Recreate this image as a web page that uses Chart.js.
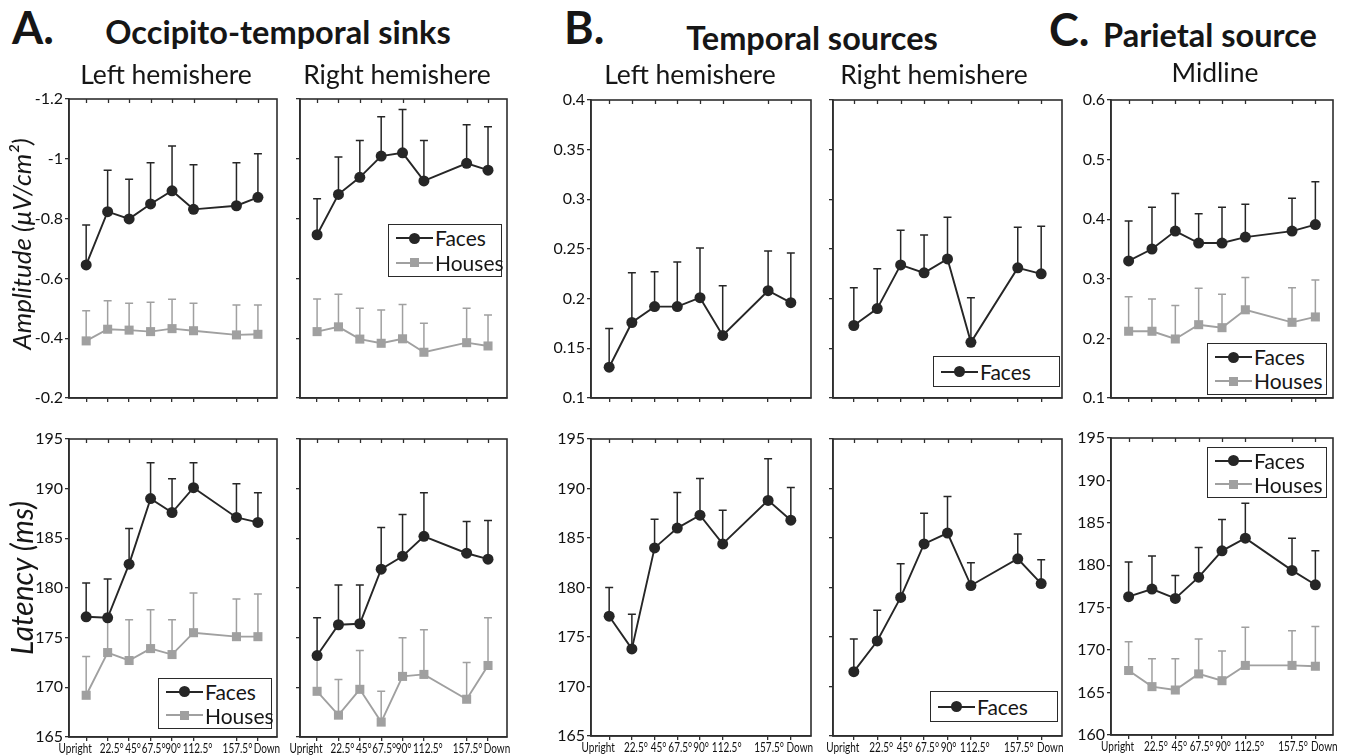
<!DOCTYPE html>
<html>
<head>
<meta charset="utf-8">
<script src="https://cdn.jsdelivr.net/npm/chart.js@4.4.1/dist/chart.umd.min.js"></script>
<style>
  html, body { margin: 0; padding: 0; background: #fff; }
  body { width: 1346px; height: 756px; position: relative; overflow: hidden; font-family: Lato, "Open Sans", sans-serif; color: #161616; }
  canvas { position: absolute; }
  .txt { position: absolute; white-space: nowrap; line-height: 1; }
  .legend { position: absolute; border: 1.6px solid #2a2a2a; background: #fff; box-sizing: border-box; }
  .lgrow { position: absolute; left: 0; right: 0; }
  .lgline { position: absolute; left: 7px; width: 37px; height: 2px; }
  .lgmark { position: absolute; }
  .lgtext { position: absolute; left: 46px; font-size: 21px; white-space: nowrap; }
</style>
</head>
<body>
<script>
// x categories (rotation angle of the stimulus)
const angles = [0, 22.5, 45, 67.5, 90, 112.5, 157.5, 180];
const angleLabels = ["Upright", "22.5°", "45°", "67.5°", "90°", "112.5°", "157.5°", "Down"];

// y tick values
const ampSinkTicks = [-1.2, -1, -0.8, -0.6, -0.4, -0.2];
const ampTempTicks = [0.1, 0.15, 0.2, 0.25, 0.3, 0.35, 0.4];
const ampParTicks = [0.1, 0.2, 0.3, 0.4, 0.5, 0.6];
const latTicks = [165, 170, 175, 180, 185, 190, 195];
const latParTicks = [160, 165, 170, 175, 180, 185, 190, 195];

// A. Occipito-temporal sinks - amplitude (means and top of error bars)
const ampSinkLeftFaces = [-0.645, -0.823, -0.799, -0.849, -0.893, -0.831, -0.843, -0.871];
const ampSinkLeftFacesErr = [-0.779, -0.962, -0.932, -0.987, -1.043, -0.980, -0.987, -1.017];
const ampSinkLeftHouses = [-0.391, -0.430, -0.427, -0.422, -0.432, -0.425, -0.411, -0.413];
const ampSinkLeftHousesErr = [-0.492, -0.525, -0.517, -0.520, -0.530, -0.517, -0.511, -0.511];
const ampSinkRightFaces = [-0.746, -0.881, -0.938, -1.009, -1.020, -0.926, -0.985, -0.962];
const ampSinkRightFacesErr = [-0.866, -1.006, -1.061, -1.141, -1.165, -1.061, -1.114, -1.107];
const ampSinkRightHouses = [-0.422, -0.438, -0.397, -0.383, -0.398, -0.353, -0.385, -0.374];
const ampSinkRightHousesErr = [-0.531, -0.547, -0.500, -0.494, -0.513, -0.450, -0.500, -0.478];

// A. Occipito-temporal sinks - latency (ms)
const latSinkLeftFaces = [177.1, 177.0, 182.4, 189.0, 187.6, 190.1, 187.1, 186.6];
const latSinkLeftFacesErr = [180.5, 180.9, 186.0, 192.6, 191.0, 192.6, 190.5, 189.6];
const latSinkLeftHouses = [169.2, 173.5, 172.7, 173.9, 173.3, 175.5, 175.1, 175.1];
const latSinkLeftHousesErr = [173.1, 177.4, 176.8, 177.8, 176.8, 179.5, 178.9, 179.4];
const latSinkRightFaces = [173.2, 176.3, 176.4, 181.9, 183.2, 185.2, 183.5, 182.9];
const latSinkRightFacesErr = [177.0, 180.3, 180.3, 186.1, 187.4, 189.6, 186.7, 186.8];
const latSinkRightHouses = [169.6, 167.2, 169.8, 166.5, 171.1, 171.3, 168.8, 172.2];
const latSinkRightHousesErr = [173.3, 170.8, 173.7, 169.6, 175.0, 175.8, 172.5, 177.0];

// B. Temporal sources (faces only)
const ampTempLeftFaces = [0.131, 0.176, 0.192, 0.192, 0.201, 0.163, 0.208, 0.196];
const ampTempLeftFacesErr = [0.170, 0.226, 0.227, 0.237, 0.251, 0.213, 0.248, 0.246];
const ampTempRightFaces = [0.173, 0.190, 0.234, 0.226, 0.240, 0.156, 0.231, 0.225];
const ampTempRightFacesErr = [0.211, 0.230, 0.269, 0.264, 0.282, 0.201, 0.272, 0.273];
const latTempLeftFaces = [177.1, 173.8, 184.0, 186.0, 187.3, 184.4, 188.8, 186.8];
const latTempLeftFacesErr = [180.0, 177.3, 186.9, 189.6, 191.0, 187.8, 193.0, 190.1];
const latTempRightFaces = [171.5, 174.6, 179.0, 184.4, 185.5, 180.2, 182.9, 180.4];
const latTempRightFacesErr = [174.8, 177.7, 182.4, 187.5, 189.2, 182.5, 185.4, 182.8];

// C. Parietal source (midline)
const ampParFaces = [0.330, 0.350, 0.380, 0.360, 0.360, 0.370, 0.380, 0.391];
const ampParFacesErr = [0.397, 0.420, 0.443, 0.409, 0.420, 0.425, 0.435, 0.463];
const ampParHouses = [0.212, 0.212, 0.199, 0.223, 0.218, 0.248, 0.227, 0.236];
const ampParHousesErr = [0.270, 0.266, 0.255, 0.284, 0.274, 0.302, 0.285, 0.298];
const latParFaces = [176.3, 177.2, 176.1, 178.6, 181.7, 183.2, 179.4, 177.7];
const latParFacesErr = [180.4, 181.1, 178.8, 182.1, 185.4, 187.3, 183.2, 181.7];
const latParHouses = [167.6, 165.7, 165.3, 167.2, 166.4, 168.2, 168.2, 168.1];
const latParHousesErr = [171.0, 169.0, 169.0, 171.3, 169.9, 172.7, 172.3, 172.8];

// styles
const FACES_COLOR = "#262626";
const HOUSES_COLOR = "#a0a0a0";
const AXIS_COLOR = "#2e2e2e";
const FONT = "Lato, 'Open Sans', sans-serif";
// small horizontal nudges of the angle labels (the original labels are not centred on ticks)
const labelNudge = [-11, 4, 4, 3, 1, 4, 1, 9];

const faces = (values, err) => ({ name: "Faces", values, err, color: FACES_COLOR, marker: "circle", radius: 5.5 });
const houses = (values, err) => ({ name: "Houses", values, err, color: HOUSES_COLOR, marker: "rect", radius: 6.4 });

// canvas gutters around each plot box
const GL = 48, GT = 14, GR = 10, GB = 22;

// error bars drawn under the lines
const errorBars = {
  id: "errorBars",
  beforeDatasetsDraw(chart) {
    const ctx = chart.ctx, xs = chart.scales.x, ys = chart.scales.y;
    chart.data.datasets.forEach(ds => {
      ctx.save();
      ctx.strokeStyle = ds.borderColor;
      ctx.lineWidth = 1.5;
      ds.data.forEach((pt, i) => {
        const x = xs.getPixelForValue(pt.x);
        const y0 = ys.getPixelForValue(pt.y);
        const y1 = ys.getPixelForValue(ds.hi[i]);
        ctx.beginPath();
        ctx.moveTo(x, y0); ctx.lineTo(x, y1);
        ctx.moveTo(x - 4, y1); ctx.lineTo(x + 4, y1);
        ctx.stroke();
      });
      ctx.restore();
    });
  }
};

// closed box, inward ticks on the top edge, and the angle labels under the bottom row
const frame = {
  id: "frame",
  afterDraw(chart, args, opts) {
    const ctx = chart.ctx, a = chart.chartArea, xs = chart.scales.x;
    ctx.save();
    ctx.strokeStyle = AXIS_COLOR;
    ctx.lineWidth = 1.6;
    ctx.strokeRect(a.left, a.top, a.right - a.left, a.bottom - a.top);
    ctx.lineWidth = 1.3;
    angles.forEach(v => {
      const x = Math.round(xs.getPixelForValue(v)) + 0.5;
      ctx.beginPath(); ctx.moveTo(x, a.top); ctx.lineTo(x, a.top + 4); ctx.stroke();
    });
    if (opts.showX) {
      ctx.fillStyle = "#111";
      ctx.font = "13.5px " + FONT;
      ctx.textAlign = "center";
      ctx.textBaseline = "alphabetic";
      angles.forEach((v, i) => {
        const cx = xs.getPixelForValue(v) + labelNudge[i];
        ctx.save();
        ctx.translate(cx, a.bottom + 16);
        ctx.scale(0.74, 1);
        ctx.fillText(angleLabels[i], 0, 0);
        ctx.restore();
      });
    }
    ctx.restore();
  }
};

function makePanel(p) {
  const [l, t, r, b] = p.rect;
  const w = r - l + GL + GR, h = b - t + GT + GB;
  const cv = document.createElement("canvas");
  cv.width = w; cv.height = h;
  cv.style.left = (l - GL) + "px"; cv.style.top = (t - GT) + "px";
  cv.style.width = w + "px"; cv.style.height = h + "px";
  document.body.appendChild(cv);

  new Chart(cv, {
    type: "line",
    data: {
      datasets: p.series.map(s => ({
        label: s.name,
        data: angles.map((a, i) => ({ x: a, y: s.values[i] })),
        hi: s.err,
        borderColor: s.color,
        backgroundColor: s.color,
        borderWidth: 1.9,
        pointStyle: s.marker,
        pointRadius: s.radius,
        pointHoverRadius: s.radius,
        pointBorderWidth: 0,
        tension: 0,
        fill: false
      }))
    },
    options: {
      responsive: false,
      animation: false,
      devicePixelRatio: 1,
      events: [],
      layout: { padding: { top: GT, right: GR, left: 0, bottom: 0 } },
      plugins: { legend: { display: false }, tooltip: { enabled: false }, frame: { showX: p.showX } },
      scales: {
        x: {
          type: "linear",
          min: p.xRange[0],
          max: p.xRange[1],
          afterBuildTicks: sc => { sc.ticks = angles.map(v => ({ value: v })); },
          afterFit: sc => { sc.height = GB; },
          ticks: { display: false },
          grid: { drawOnChartArea: false, drawTicks: true, tickLength: 4, color: AXIS_COLOR, lineWidth: 1.3 },
          border: { display: true, color: AXIS_COLOR, width: 1.6 }
        },
        y: {
          type: "linear",
          min: Math.min(...p.yTicks),
          max: Math.max(...p.yTicks),
          reverse: !!p.reverse,
          afterBuildTicks: sc => { sc.ticks = p.yTicks.map(v => ({ value: v })); },
          afterFit: sc => { sc.width = GL; },
          ticks: {
            callback: v => p.showY ? String(v) : "",
            color: "#111",
            padding: 2,
            font: { family: FONT, size: 16 }
          },
          grid: { drawOnChartArea: false, drawTicks: true, tickLength: 4, color: AXIS_COLOR, lineWidth: 1.3 },
          border: { display: true, color: AXIS_COLOR, width: 1.6 }
        }
      }
    },
    plugins: [errorBars, frame]
  });
}

function addText(str, x, baseline, size, o = {}) {
  const d = document.createElement("div");
  d.className = "txt";
  d.textContent = str;
  d.style.fontSize = size + "px";
  d.style.fontWeight = o.bold ? "bold" : "normal";
  d.style.fontStyle = o.italic ? "italic" : "normal";
  d.style.left = x + "px";
  d.style.top = (baseline - 0.887 * size) + "px";
  if (o.center) d.style.transform = "translateX(-50%)";
  document.body.appendChild(d);
}

function addVText(str, cx, cy, size) {
  const d = document.createElement("div");
  d.className = "txt";
  d.textContent = str;
  d.style.fontSize = size + "px";
  d.style.fontStyle = "italic";
  d.style.left = cx + "px";
  d.style.top = cy + "px";
  d.style.transform = "translate(-50%, -50%) rotate(-90deg)";
  document.body.appendChild(d);
}

function addLegend(x, y, w, h, rows) {
  const box = document.createElement("div");
  box.className = "legend";
  Object.assign(box.style, { left: x + "px", top: y + "px", width: w + "px", height: h + "px" });
  const rh = (h - 4) / rows.length;
  rows.forEach((s, i) => {
    const row = document.createElement("div");
    row.className = "lgrow";
    Object.assign(row.style, { top: (1 + i * rh) + "px", height: rh + "px" });
    const line = document.createElement("div");
    line.className = "lgline";
    Object.assign(line.style, { top: (rh / 2 - 1) + "px", background: s.color });
    const mk = document.createElement("div");
    mk.className = "lgmark";
    const size = s.marker === "circle" ? 11 : 9;
    Object.assign(mk.style, {
      width: size + "px", height: size + "px", background: s.color,
      left: (25.5 - size / 2) + "px", top: (rh / 2 - size / 2) + "px",
      borderRadius: s.marker === "circle" ? "50%" : "0"
    });
    const tx = document.createElement("div");
    tx.className = "lgtext";
    tx.textContent = s.name;
    Object.assign(tx.style, { top: "0px", lineHeight: rh + "px" });
    row.append(line, mk, tx);
    box.appendChild(row);
  });
  document.body.appendChild(box);
}

const F = faces([], []), H = houses([], []);

// top row: amplitude
makePanel({ rect: [69, 99, 277, 398], xRange: [-18, 200], yTicks: ampSinkTicks, reverse: true, showY: true, showX: false,
  series: [faces(ampSinkLeftFaces, ampSinkLeftFacesErr), houses(ampSinkLeftHouses, ampSinkLeftHousesErr)] });
makePanel({ rect: [300, 99, 507, 398], xRange: [-18, 200], yTicks: ampSinkTicks, reverse: true, showY: false, showX: false,
  series: [faces(ampSinkRightFaces, ampSinkRightFacesErr), houses(ampSinkRightHouses, ampSinkRightHousesErr)] });
makePanel({ rect: [591, 100, 811, 398], xRange: [-18, 200], yTicks: ampTempTicks, showY: true, showX: false,
  series: [faces(ampTempLeftFaces, ampTempLeftFacesErr)] });
makePanel({ rect: [833, 100, 1062, 398], xRange: [-20, 200], yTicks: ampTempTicks, showY: false, showX: false,
  series: [faces(ampTempRightFaces, ampTempRightFacesErr)] });
makePanel({ rect: [1111, 100, 1333, 398], xRange: [-17, 197], yTicks: ampParTicks, showY: true, showX: false,
  series: [faces(ampParFaces, ampParFacesErr), houses(ampParHouses, ampParHousesErr)] });

// bottom row: latency
makePanel({ rect: [69, 439, 277, 737], xRange: [-18, 200], yTicks: latTicks, showY: true, showX: true,
  series: [faces(latSinkLeftFaces, latSinkLeftFacesErr), houses(latSinkLeftHouses, latSinkLeftHousesErr)] });
makePanel({ rect: [300, 439, 507, 737], xRange: [-18, 200], yTicks: latTicks, showY: false, showX: true,
  series: [faces(latSinkRightFaces, latSinkRightFacesErr), houses(latSinkRightHouses, latSinkRightHousesErr)] });
makePanel({ rect: [591, 439, 811, 736], xRange: [-18, 200], yTicks: latTicks, showY: true, showX: true,
  series: [faces(latTempLeftFaces, latTempLeftFacesErr)] });
makePanel({ rect: [833, 439, 1062, 736], xRange: [-20, 200], yTicks: latTicks, showY: false, showX: true,
  series: [faces(latTempRightFaces, latTempRightFacesErr)] });
makePanel({ rect: [1111, 438, 1333, 735], xRange: [-17, 197], yTicks: latParTicks, showY: true, showX: true,
  series: [faces(latParFaces, latParFacesErr), houses(latParHouses, latParHousesErr)] });

// legends
addLegend(388, 224, 114, 53, [F, H]);
addLegend(158, 678, 114, 51, [F, H]);
addLegend(933, 356, 127, 31, [F]);
addLegend(930, 691, 128, 31, [F]);
addLegend(1207, 343, 120, 52, [F, H]);
addLegend(1207, 447, 120, 51, [F, H]);

// headings
addText("A.", 12, 45, 45, { bold: true });
addText("Occipito-temporal sinks", 278, 45, 32.5, { bold: true, center: true });
addText("Left hemishere", 166, 85, 26.5, { center: true });
addText("Right hemishere", 397, 85, 26.5, { center: true });
addText("B.", 564, 45, 45, { bold: true });
addText("Temporal sources", 812, 51, 32.5, { bold: true, center: true });
addText("Left hemishere", 690, 85, 26.5, { center: true });
addText("Right hemishere", 934, 85, 26.5, { center: true });
addText("C.", 1049, 47, 45, { bold: true });
addText("Parietal source", 1210, 48, 32.5, { bold: true, center: true });
addText("Midline", 1215, 83, 26.5, { center: true });

// y axis titles
addVText("Amplitude (μV/cm²)", 21, 244, 26);
addVText("Latency (ms)", 21, 578, 30);
</script>
</body>
</html>
